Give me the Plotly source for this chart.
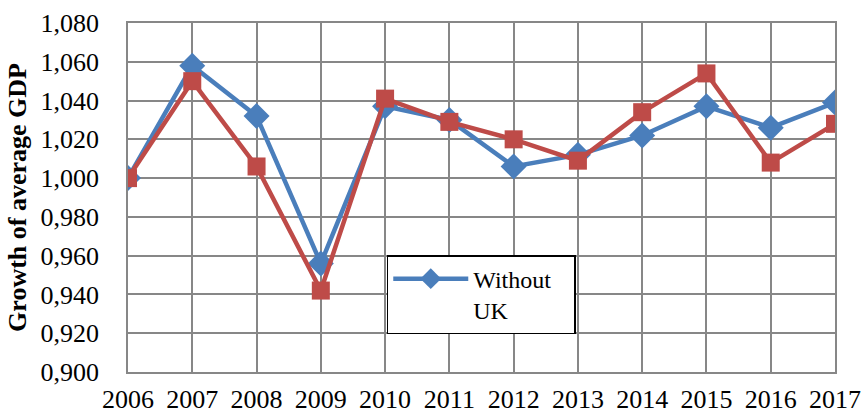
import plotly.graph_objects as go

# Annual growth factor of average GDP, 2006 = 1.000
years = [2006, 2007, 2008, 2009, 2010, 2011, 2012, 2013, 2014, 2015, 2016, 2017]
without_uk = [1.000, 1.058, 1.032, 0.956, 1.037, 1.030, 1.006, 1.012, 1.022, 1.037, 1.026, 1.039]
with_uk = [1.000, 1.050, 1.006, 0.942, 1.041, 1.029, 1.020, 1.009, 1.034, 1.054, 1.008, 1.028]

y_ticks = [0.90, 0.92, 0.94, 0.96, 0.98, 1.00, 1.02, 1.04, 1.06, 1.08]

BLUE = "#4A7EBB"
RED = "#BE4B48"
GRID = "#878787"
SERIF = "Liberation Serif, Times New Roman, serif"
NBSP = "\u00a0"

fig = go.Figure()
fig.add_trace(go.Scatter(
    x=years, y=without_uk, name="Without" + NBSP * 3 + "<br>UK", mode="lines+markers",
    line=dict(color=BLUE, width=4.5),
    marker=dict(symbol="diamond", size=20, color=BLUE),
))
fig.add_trace(go.Scatter(
    x=years, y=with_uk, name="With UK", mode="lines+markers", showlegend=False,
    line=dict(color=RED, width=4.5),
    marker=dict(symbol="square", size=18, color=RED),
))

fig.update_layout(
    width=861, height=414,
    margin=dict(l=128, r=26, t=23, b=42),
    paper_bgcolor="white", plot_bgcolor="white",
    separators=", ",
    font=dict(family=SERIF, size=26, color="black"),
    showlegend=True,
    legend=dict(
        x=0.366, y=0.335, xanchor="left", yanchor="top",
        bgcolor="white", bordercolor="black", borderwidth=1.5,
        font=dict(family=SERIF, size=24, color="black"),
        itemwidth=75, valign="top",
    ),
)
fig.update_xaxes(
    range=[2006, 2017], tickvals=years, ticktext=[str(y) for y in years],
    showgrid=True, gridcolor=GRID, gridwidth=1.5,
    showline=True, linecolor=GRID, linewidth=1.5, mirror=True,
    ticks="", ticklabelstandoff=3, zeroline=False, automargin=False,
    tickfont=dict(family=SERIF, size=26, color="black"),
)
fig.update_yaxes(
    range=[0.90, 1.08], tickvals=y_ticks, tickformat=".3f",
    showgrid=True, gridcolor=GRID, gridwidth=1.5,
    showline=True, linecolor=GRID, linewidth=1.5, mirror=True,
    ticks="", ticklabelstandoff=22, zeroline=False, automargin=False,
    tickfont=dict(family=SERIF, size=26, color="black"),
    title=dict(text="<b>Growth of average GDP</b>", standoff=6,
               font=dict(family=SERIF, size=26, color="black")),
)

fig.write_html("out.html")
